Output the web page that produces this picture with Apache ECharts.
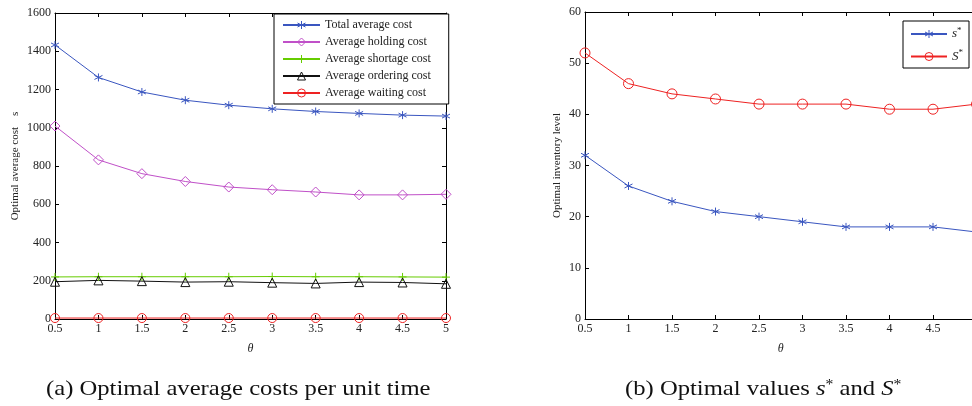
<!DOCTYPE html>
<html>
<head>
<meta charset="utf-8">
<script src="https://cdn.jsdelivr.net/npm/echarts@6/dist/echarts.min.js"></script>
<style>
  html, body { margin: 0; padding: 0; background: #fff; overflow: hidden; }
  #chart { width: 972px; height: 406px; }
</style>
</head>
<body>
<div id="chart"></div>
<script>
// theta values (x axis of both panels)
var theta = [0.5, 1, 1.5, 2, 2.5, 3, 3.5, 4, 4.5, 5];

// (a) optimal average costs
var totalCost    = [1433, 1263, 1187, 1144, 1118, 1099, 1085, 1075, 1066, 1061];
var holdingCost  = [1009, 832, 760, 719, 690, 676, 664, 649, 649, 652];
var shortageCost = [220, 221, 221, 221, 221, 222, 221, 221, 220, 219];
var orderingCost = [195, 202, 198, 193, 195, 190, 186, 193, 191, 184];
var waitingCost  = [5, 5, 5, 5, 5, 5, 5, 5, 5, 5];

// (b) optimal s* and S*
var sStar = [32, 26, 23, 21, 20, 19, 18, 18, 18, 17];
var SStar = [52, 46, 44, 43, 42, 42, 42, 41, 41, 42];

var costNames = ['Total average cost', 'Average holding cost', 'Average shortage cost',
                 'Average ordering cost', 'Average waiting cost'];
var levelNames = ['s*', 'S*'];

var FONT = 'Liberation Serif';
var STAR = 'path://M0,-6L0,6M-5.2,-3L5.2,3M-5.2,3L5.2,-3';
var PLUS = 'path://M0,-5L0,5M-5,0L5,0';

function pairs(arr) {
  return theta.map(function (t, i) { return [t, arr[i]]; });
}

// build a line series, markers are hollow (stroke only) like matlab
function mkLine(name, arr, color, symbol, size, xi, yi) {
  return {
    name: name,
    type: 'line',
    xAxisIndex: xi,
    yAxisIndex: yi,
    data: pairs(arr),
    symbol: symbol,
    symbolSize: size,
    showAllSymbol: true,
    clip: false,
    lineStyle: { color: color, width: 1 },
    itemStyle: { color: 'rgba(0,0,0,0)', borderColor: color, borderWidth: 1 },
    emphasis: { disabled: true },
    z: 3
  };
}

// legend entries with hollow icons
function legendItems(names, colors) {
  return names.map(function (n, i) {
    return { name: n, itemStyle: { color: 'rgba(0,0,0,0)', borderColor: colors[i], borderWidth: 1 } };
  });
}

function xAx(gi, pos, label, name) {
  return {
    type: 'value', gridIndex: gi, position: pos,
    min: 0.5, max: 5, interval: 0.5,
    axisLine: { show: true, onZero: false, lineStyle: { color: '#000', width: 1 } },
    axisTick: { show: true, inside: true, length: 4, lineStyle: { color: '#000' } },
    axisLabel: { show: label, color: '#222', fontFamily: FONT, fontSize: 12, margin: 4 },
    splitLine: { show: false },
    name: name, nameLocation: 'middle', nameGap: 24,
    nameTextStyle: { fontFamily: FONT, fontStyle: 'italic', fontSize: 12, color: '#222' }
  };
}

function yAx(gi, pos, label, max, step, name, gap) {
  return {
    type: 'value', gridIndex: gi, position: pos,
    min: 0, max: max, interval: step,
    axisLine: { show: true, onZero: false, lineStyle: { color: '#000', width: 1 } },
    axisTick: { show: true, inside: true, length: 4, lineStyle: { color: '#000' } },
    axisLabel: {
      show: label, color: '#222', fontFamily: FONT, fontSize: 12, margin: 4,
      formatter: function (v) { return String(v); }
    },
    splitLine: { show: false },
    name: name, nameLocation: 'middle', nameGap: gap,
    nameTextStyle: { fontFamily: FONT, fontSize: 11, color: '#222' }
  };
}

var BLUE = '#3a56c0', MAGENTA = '#c050c8', GREEN = '#66cc00', BLACK = '#111', RED = '#ee2222';

var chart = echarts.init(document.getElementById('chart'));
chart.setOption({
  animation: false,
  backgroundColor: '#fff',
  grid: [
    { left: 55, right: 526, top: 13, bottom: 87, outerBoundsMode: 'none' },
    { left: 585, right: -4.5, top: 12, bottom: 87, outerBoundsMode: 'none' }
  ],
  xAxis: [
    xAx(0, 'bottom', true, 'θ'),
    xAx(0, 'top', false, ''),
    xAx(1, 'bottom', true, 'θ'),
    xAx(1, 'top', false, '')
  ],
  yAxis: [
    yAx(0, 'left', true, 1600, 200, 'Optimal average cost    s', 34),
    yAx(0, 'right', false, 1600, 200, '', 0),
    yAx(1, 'left', true, 60, 10, 'Optimal inventory level', 22),
    yAx(1, 'right', false, 60, 10, '', 0)
  ],
  legend: [
    {
      data: legendItems(costNames, [BLUE, MAGENTA, GREEN, BLACK, RED]),
      orient: 'vertical', left: 274, top: 14,
      backgroundColor: '#fff', borderColor: '#000', borderWidth: 1,
      padding: [5, 18, 5, 8], itemGap: 5, itemWidth: 37, itemHeight: 10,
      textStyle: { fontFamily: FONT, fontSize: 12, color: '#222' }
    },
    {
      data: legendItems(levelNames, [BLUE, RED]),
      orient: 'vertical', right: 3, top: 21,
      backgroundColor: '#fff', borderColor: '#000', borderWidth: 1,
      padding: [5, 6, 5, 7], itemGap: 8, itemWidth: 36, itemHeight: 10,
      formatter: function (n) { return '{i|' + n.charAt(0) + '}{sup|*}'; },
      textStyle: {
        fontFamily: FONT, fontSize: 13, color: '#222',
        rich: {
          i: { fontFamily: FONT, fontStyle: 'italic', fontSize: 13 },
          sup: { fontFamily: FONT, fontSize: 9, padding: [0, 0, 7, 0] }
        }
      }
    }
  ],
  series: [
    mkLine(costNames[0], totalCost, BLUE, STAR, 8, 0, 0),
    mkLine(costNames[1], holdingCost, MAGENTA, 'diamond', 10, 0, 0),
    mkLine(costNames[2], shortageCost, GREEN, PLUS, 8, 0, 0),
    mkLine(costNames[3], orderingCost, BLACK, 'triangle', 9, 0, 0),
    mkLine(costNames[4], waitingCost, RED, 'circle', 9, 0, 0),
    mkLine(levelNames[0], sStar, BLUE, STAR, 8, 2, 2),
    mkLine(levelNames[1], SStar, RED, 'circle', 10, 2, 2)
  ],
  graphic: [
    { type: 'text', x: 46, y: 378, scaleX: 1.12,
      style: { text: '(a) Optimal average costs per unit time', font: '22px "Liberation Serif"', fill: '#111' } },
    { type: 'text', x: 625, y: 378, scaleX: 1.12,
      style: {
        text: '{n|(b) Optimal values }{i|s}{sup|*}{n| and }{i|S}{sup|*}',
        fill: '#111',
        rich: {
          n: { fontFamily: FONT, fontSize: 22 },
          i: { fontFamily: FONT, fontStyle: 'italic', fontSize: 22 },
          sup: { fontFamily: FONT, fontSize: 14, padding: [0, 0, 9, 0] }
        }
      } }
  ]
});
</script>
</body>
</html>
